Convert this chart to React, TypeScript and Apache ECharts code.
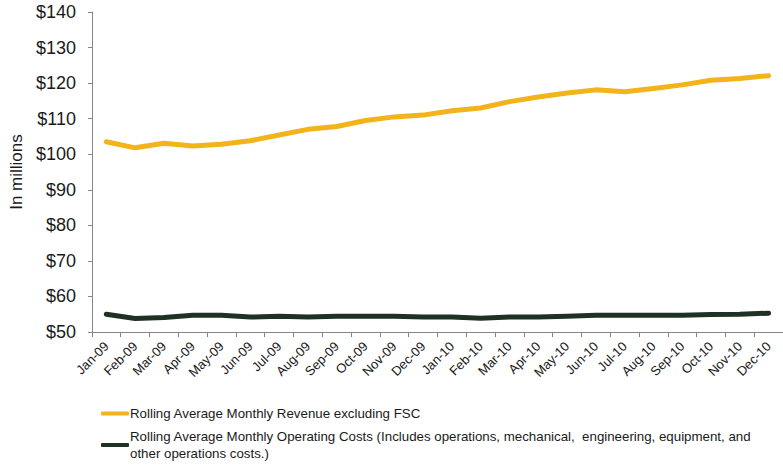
import React, { useEffect, useRef } from "react";
import * as echarts from "echarts";

const months = [
  "Jan-09", "Feb-09", "Mar-09", "Apr-09", "May-09", "Jun-09", "Jul-09", "Aug-09", "Sep-09", "Oct-09", "Nov-09", "Dec-09",
  "Jan-10", "Feb-10", "Mar-10", "Apr-10", "May-10", "Jun-10", "Jul-10", "Aug-10", "Sep-10", "Oct-10", "Nov-10", "Dec-10",
];

const revenue = [
  103.5, 101.8, 103.1, 102.3, 102.8, 103.8, 105.4, 107.0, 107.8, 109.5, 110.5, 111.0,
  112.2, 113.0, 114.8, 116.1, 117.2, 118.1, 117.6, 118.5, 119.5, 120.8, 121.3, 122.1,
];

const costs = [
  55.0, 53.8, 54.1, 54.7, 54.7, 54.2, 54.4, 54.2, 54.4, 54.4, 54.4, 54.2,
  54.2, 53.9, 54.2, 54.2, 54.4, 54.7, 54.7, 54.7, 54.7, 54.9, 55.0, 55.3,
];

const revenueName = "Rolling Average Monthly Revenue excluding FSC";
const costsName =
  "Rolling Average Monthly Operating Costs (Includes operations, mechanical,  engineering, equipment, and\nother operations costs.)";

const yMin = 50;
const yMax = 140;
const yStep = 10;

const FONT = "'Liberation Sans', Arial, sans-serif";

export default function App() {
  const ref = useRef<HTMLDivElement>(null);

  useEffect(() => {
    document.body.style.margin = "0";
    const chart = echarts.init(ref.current!, null, { renderer: "svg" });
    chart.setOption({
      animation: false,
      backgroundColor: "#ffffff",
      grid: { left: 88, right: -9, top: 12, bottom: 133, containLabel: false },
      legend: [
        {
          data: [revenueName],
          orient: "vertical",
          left: 96,
          top: 402,
          icon: "roundRect",
          itemWidth: 28,
          itemHeight: 4,
          itemGap: 0,
          textStyle: { fontFamily: FONT, fontSize: 13.3, color: "#1a1a1a", padding: [0, 0, 0, -4] },
          selectedMode: false,
        },
        {
          data: [costsName],
          orient: "vertical",
          left: 96,
          top: 414.5,
          icon: "roundRect",
          itemWidth: 28,
          itemHeight: 4,
          textStyle: {
            fontFamily: FONT,
            fontSize: 13.3,
            lineHeight: 17,
            color: "#1a1a1a",
            padding: [17, 0, 0, -4],
          },
          selectedMode: false,
        },
      ],
      xAxis: {
        type: "category",
        data: months,
        boundaryGap: true,
        axisLine: { lineStyle: { color: "#868686", width: 1 } },
        axisTick: { show: true, length: 5, inside: false, lineStyle: { color: "#868686" } },
        axisLabel: {
          rotate: 45,
          interval: 0,
          margin: 12,
          fontFamily: FONT,
          fontSize: 13,
          color: "#1a1a1a",
        },
        splitLine: { show: false },
      },
      yAxis: {
        type: "value",
        min: yMin,
        max: yMax,
        interval: yStep,
        name: "In millions",
        nameLocation: "middle",
        nameGap: 64,
        nameRotate: 90,
        nameTextStyle: { fontFamily: FONT, fontSize: 17, color: "#1a1a1a" },
        axisLine: { show: true, lineStyle: { color: "#868686", width: 1 } },
        axisTick: { show: true, length: 4, lineStyle: { color: "#868686" } },
        axisLabel: {
          margin: 16,
          fontFamily: FONT,
          fontSize: 18,
          color: "#1a1a1a",
          formatter: (v: number) => "$" + v,
        },
        splitLine: { show: false },
      },
      series: [
        {
          name: revenueName,
          type: "line",
          data: revenue,
          symbol: "none",
          itemStyle: { color: "#F2B31B" },
          lineStyle: { color: "#F2B31B", width: 5, cap: "round", join: "round" },
        },
        {
          name: costsName,
          type: "line",
          data: costs,
          symbol: "none",
          itemStyle: { color: "#1E3223" },
          lineStyle: { color: "#1E3223", width: 5, cap: "round", join: "round" },
        },
      ],
    });
    return () => chart.dispose();
  }, []);

  return <div ref={ref} style={{ width: 783, height: 465 }} />;
}
